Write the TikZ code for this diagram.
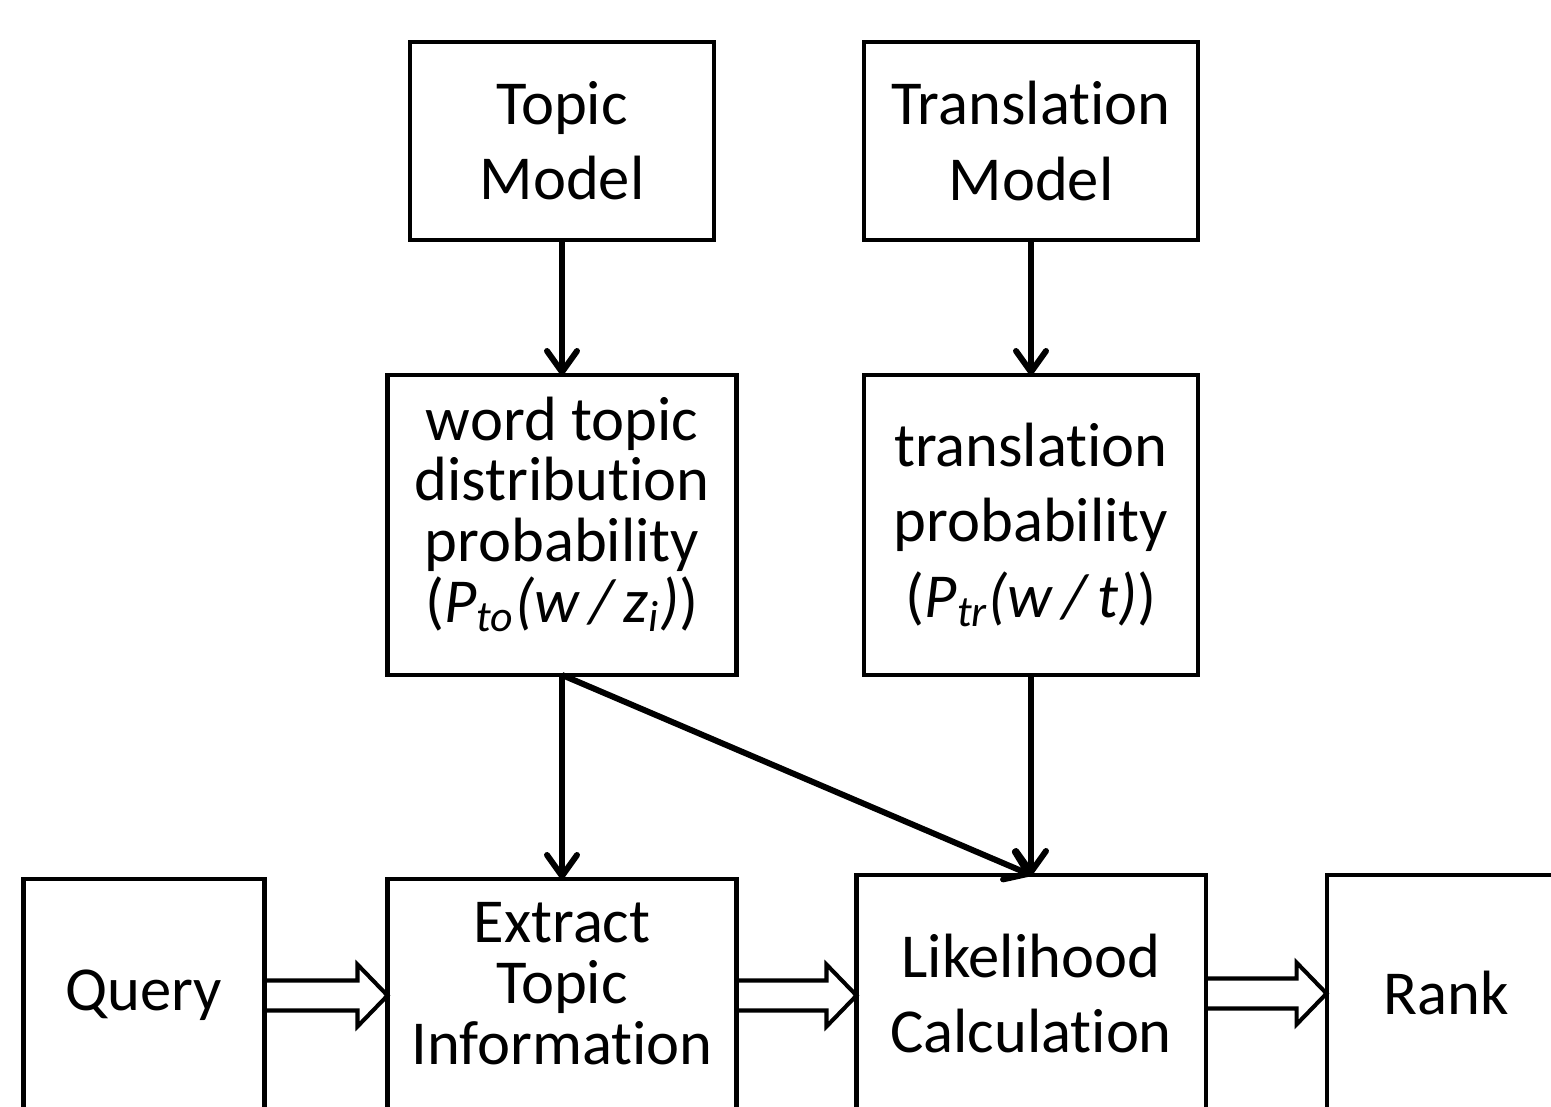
\documentclass[tikz,border=0pt]{standalone}
\usepackage{fontspec}
\setmainfont{Carlito}[Ligatures=NoCommon]
\usepackage{tikz}
\usetikzlibrary{arrows.meta,positioning,calc}
% open block arrow between two boxes of the bottom row
\newcommand{\fatarrow}[2]{%
  \draw[hollow] ($(#1.east)+(0,0.15)$) -- ($(#2.west |- #1.east)+(-0.3,0.15)$)
    -- ++(0,0.16) -- (#2.west |- #1.east) -- ++(-0.3,-0.31) -- ++(0,0.16)
    -- ($(#1.east)+(0,-0.15)$);}

\begin{document}
\begin{tikzpicture}[
      box/.style={draw=black, line width=1.15pt, align=center, outer sep=0pt,
                  font=\fontsize{17.8}{21.4}\selectfont, inner sep=0pt},
      tightbox/.style={box, font=\fontsize{17.8}{17.3}\selectfont},
      arrow/.style={-{Straight Barb[round,length=2.1mm,width=3.0mm]}, line width=1.7pt, draw=black},
      hollow/.style={line width=1.15pt, line join=miter, draw=black}
    ]
      \clip (0,0) rectangle (15.51,11.06);
      \node[box, minimum width=3.04cm, minimum height=1.98cm] (topic) at (5.62,9.65) {Topic\\Model};
      \node[box, minimum width=3.34cm, minimum height=1.98cm, right=1.5cm of topic] (trans) {Translation\\Model};
      \node[tightbox, minimum width=3.49cm, minimum height=3.0cm, text depth=0.31cm, below=1.35cm of topic] (wordtopic)
        {word topic\\distribution\\probability\\(\textit{P\textsubscript{to}(w\,/\,z\textsubscript{i})})};
      \node[box, minimum width=3.34cm, minimum height=3.0cm, below=1.35cm of trans] (transprob)
        {translation\\probability\\(\textit{P\textsubscript{tr}(w\,/\,t)})};
      \node[tightbox, minimum width=3.49cm, minimum height=2.33cm, text depth=0.24cm, below=2.04cm of wordtopic] (extract)
        {Extract\\Topic\\Information};
      \node[box, minimum width=2.41cm, minimum height=2.33cm, left=1.23cm of extract] (query) {Query};
      \node[box, minimum width=3.49cm, minimum height=2.37cm, below=2.0cm of transprob] (likely)
        {Likelihood\\Calculation};
      \node[box, minimum width=2.7cm, minimum height=2.37cm, right=1.21cm of likely] (rank) {\hspace*{-0.3cm}Rank};

      \draw[arrow] (topic) -- (wordtopic);
      \draw[arrow] (trans) -- (transprob);
      \draw[arrow] (wordtopic) -- (extract);
      \draw[arrow] (transprob) -- (likely);
      \draw[arrow] (wordtopic.south) -- (likely.north);
      \fatarrow{query}{extract}
      \fatarrow{extract}{likely}
      \fatarrow{likely}{rank}
    \end{tikzpicture}
\end{document}
